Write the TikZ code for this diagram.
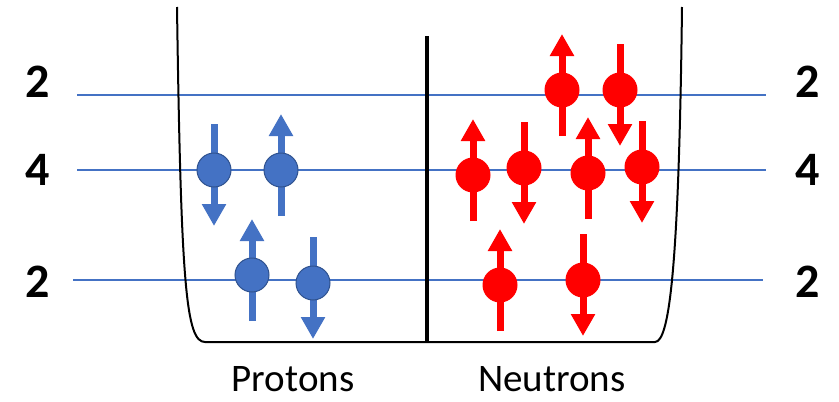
\documentclass[tikz,border=0pt]{standalone}
\usepackage{fontspec}
\setmainfont{Carlito}
\usetikzlibrary{arrows.meta}
\pgfdeclarelayer{back}
\pgfsetlayers{back,main}
\definecolor{pblue}{HTML}{4472C4}
\definecolor{pedge}{HTML}{2F528F}
\definecolor{nred}{HTML}{FF0000}

\begin{document}
\begin{tikzpicture}[x=1pt, y=-1pt,
  proton/.style={circle, minimum size=34pt, inner sep=0pt, fill=pblue, draw=pedge, line width=1pt},
  neutron/.style={circle, minimum size=35pt, inner sep=0pt, fill=nred},
  pspin/.style={line width=7pt, pblue, -{Triangle[width=23pt,length=22pt]}},
  nspin/.style={line width=7pt, nred, -{Triangle[width=23pt,length=22pt]}},
  level/.style={line width=2pt, pblue},
  levnum/.style={font=\fontsize{48}{48}\selectfont\bfseries, anchor=base, inner sep=0pt},
  side/.style={font=\fontsize{39}{39}\selectfont, anchor=base, inner sep=0pt}]

\useasboundingbox (0,0) rectangle (839,402);

% Levels
\begin{pgfonlayer}{back}
\draw [level] (77,95) -- (766,95);
\draw [level] (77,170) -- (766,170);
\draw [level] (73,280) -- (763,280);
\end{pgfonlayer}

% Well
\draw [line width=2pt, line join=round] (177,7) .. controls (181,285) and (186,342) .. (205,342) -- (655,342) .. controls (670,342) and (679,260) .. (682,7);
\draw [line width=4pt] (427,36) -- (427,342);

% Level numbers
\node (ltop) [levnum] at (38,97) {2};
\node (lmid) [levnum] at (38,185) {4};
\node (lbot) [levnum] at (38,297) {2};
\node (rtop) [levnum] at (808,97) {2};
\node (rmid) [levnum] at (808,185) {4};
\node (rbot) [levnum] at (808,297) {2};

% Nodes
\node (p1) [proton] at (214,170) {};
\node (p2) [proton] at (281,170) {};
\node (p3) [proton] at (252,275) {};
\node (p4) [proton] at (313,283) {};
\node (n1) [neutron] at (473,175) {};
\node (n2) [neutron] at (524,168) {};
\node (n3) [neutron] at (588,173) {};
\node (n4) [neutron] at (642,167) {};
\node (n5) [neutron] at (562,90) {};
\node (n6) [neutron] at (620,90) {};
\node (n7) [neutron] at (500,285) {};
\node (n8) [neutron] at (583,280) {};

\node (prot) [side] at (293,391) {Protons};
\node (neut) [side] at (552,391) {Neutrons};

% Spins
\begin{pgfonlayer}{back}
\draw [pspin] ([yshift=46pt]p1.center) -- ([yshift=-56pt]p1.center);
\draw [pspin] ([yshift=-46pt]p2.center) -- ([yshift=56pt]p2.center);
\draw [pspin] ([yshift=-46pt]p3.center) -- ([yshift=56pt]p3.center);
\draw [pspin] ([yshift=46pt]p4.center) -- ([yshift=-56pt]p4.center);
\draw [nspin] ([yshift=-46pt]n1.center) -- ([yshift=56pt]n1.center);
\draw [nspin] ([yshift=46pt]n2.center) -- ([yshift=-56pt]n2.center);
\draw [nspin] ([yshift=-46pt]n3.center) -- ([yshift=56pt]n3.center);
\draw [nspin] ([yshift=46pt]n4.center) -- ([yshift=-56pt]n4.center);
\draw [nspin] ([yshift=-46pt]n5.center) -- ([yshift=56pt]n5.center);
\draw [nspin] ([yshift=46pt]n6.center) -- ([yshift=-56pt]n6.center);
\draw [nspin] ([yshift=-46pt]n7.center) -- ([yshift=56pt]n7.center);
\draw [nspin] ([yshift=46pt]n8.center) -- ([yshift=-56pt]n8.center);
\end{pgfonlayer}

\end{tikzpicture}
\end{document}
